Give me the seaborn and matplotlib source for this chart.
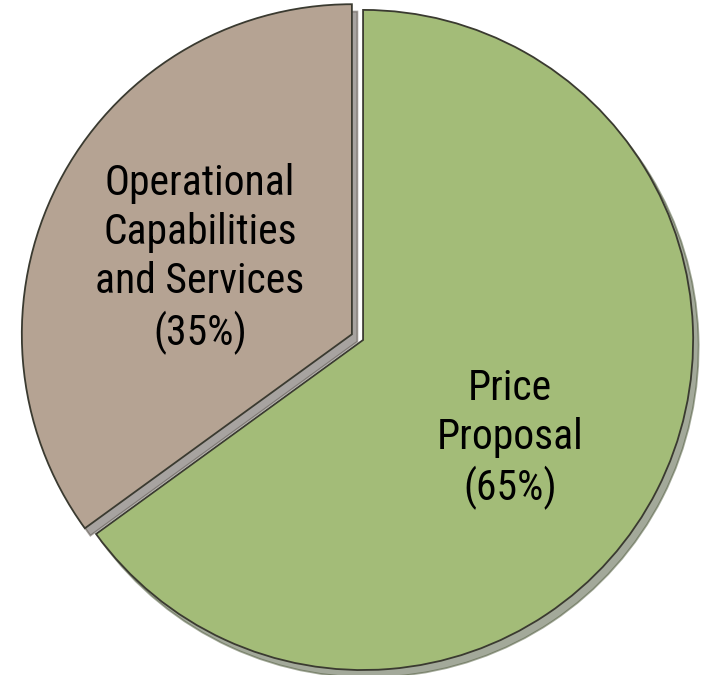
import matplotlib
matplotlib.use("Agg")
import matplotlib.pyplot as plt
import seaborn as sns

categories = ["Price\nProposal", "Operational\nCapabilities\nand Services"]
shares = [65, 35]
slice_colors = ["#A3BC78", "#B5A393"]

sns.set_theme(style="white")
plt.rcParams["font.family"] = ["Roboto Condensed", "DejaVu Sans"]

fig = plt.figure(figsize=(7.06, 6.75), dpi=100)
ax = fig.add_axes([0, 0, 1, 1])

wedges, _ = ax.pie(
    shares,
    colors=slice_colors,
    startangle=90,
    counterclock=False,
    explode=[0.0, 0.038],
    radius=1.0,
    center=(0, 0),
    shadow={"ox": 0.012, "oy": -0.016, "shade": 0.55},
    wedgeprops={"edgecolor": "#3a3a30", "linewidth": 1.3},
)

label_pos = [(0.445, -0.300), (-0.494, 0.245)]
for cat, val, (x, y) in zip(categories, shares, label_pos):
    ax.text(x, y, f"{cat}\n({val}%)", ha="center", va="center",
            fontsize=30, color="black", linespacing=1.25)

ax.set_xlim(-1.100, 1.039)
ax.set_ylim(-1.015, 1.030)
ax.set_aspect("equal")
ax.axis("off")

fig.savefig("out.png", dpi=100, facecolor="white")
